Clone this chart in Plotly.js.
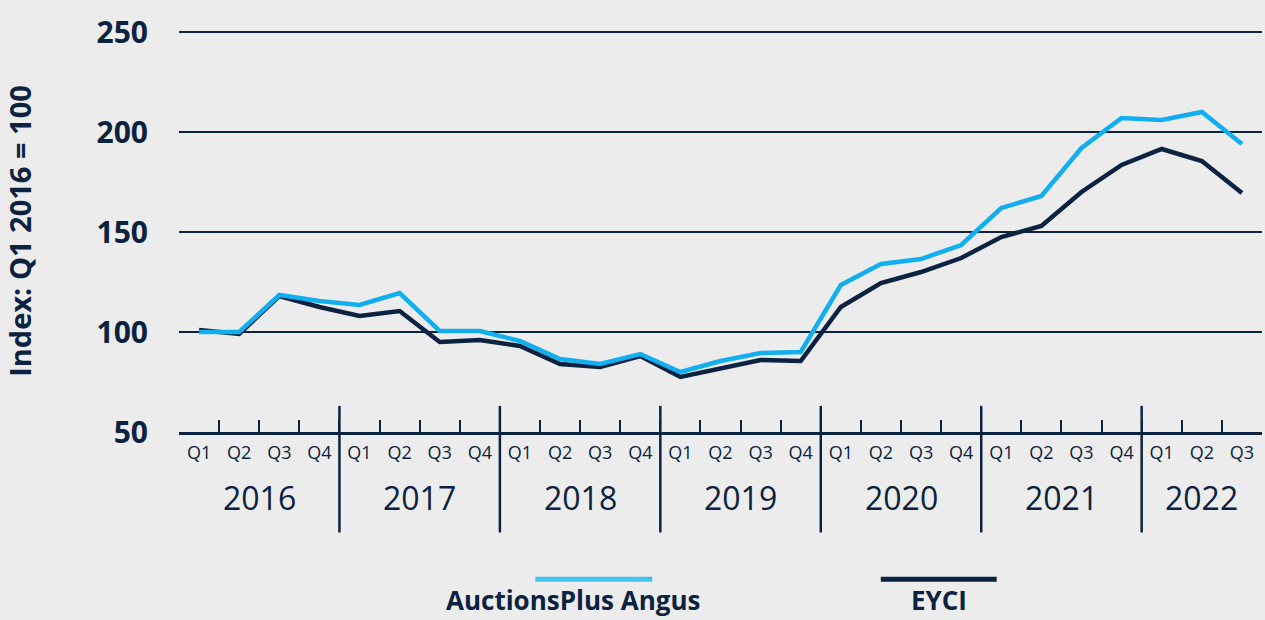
<!DOCTYPE html>
<html>
<head>
<meta charset="utf-8">
<script src="https://cdn.plot.ly/plotly-3.0.1.min.js"></script>
<style>
html,body{margin:0;padding:0;background:#ececec;}
#chart{width:1265px;height:620px;}
</style>
</head>
<body>
<div id="chart"></div>
<script>
const years = ['2016','2016','2016','2016','2017','2017','2017','2017','2018','2018','2018','2018',
               '2019','2019','2019','2019','2020','2020','2020','2020','2021','2021','2021','2021',
               '2022','2022','2022'];
const quarters = ['Q1','Q2','Q3','Q4','Q1','Q2','Q3','Q4','Q1','Q2','Q3','Q4',
                  'Q1','Q2','Q3','Q4','Q1','Q2','Q3','Q4','Q1','Q2','Q3','Q4',
                  'Q1','Q2','Q3'];
const seriesNames = ['AuctionsPlus Angus', 'EYCI'];
const auctionsPlusAngus = [100, 100, 118.5, 115.5, 113.5, 119.5, 100.5, 100.5, 95.5, 86.5, 84, 89,
                           80, 85.5, 89.5, 90, 123.5, 134, 136.5, 143.5, 162, 168, 192, 207,
                           206, 210, 194];
const eyci = [101, 99, 118, 112.5, 108, 110.5, 95, 96, 93, 84, 82.5, 88,
              77.5, 82, 86, 85.5, 112.5, 124.5, 130, 137, 147.5, 153, 170, 183.5,
              191.5, 185.5, 169.5];
const yTicks = [50, 100, 150, 200, 250];
const yTitle = 'Index: Q1 2016 = 100';

const NAVY = '#0b2240';
const BLUE = '#12aff0';
const FONT = 'Open Sans, Noto Sans, sans-serif';

const categories = years.map((y, i) => y + ' ' + quarters[i]);

// year groups from data
const yearList = [...new Set(years)];
const yearCenters = yearList.map(y => {
  const idx = years.map((v, i) => v === y ? i : -1).filter(i => i >= 0);
  return idx.reduce((a, b) => a + b, 0) / idx.length;
});
const boundaries = [];
for (let i = 1; i < years.length; i++) if (years[i] !== years[i - 1]) boundaries.push(i - 0.5);

const traces = [
  {x: categories, y: eyci, name: seriesNames[1], type: 'scatter', mode: 'lines',
   line: {color: NAVY, width: 4.5}, showlegend: false},
  {x: categories, y: auctionsPlusAngus, name: seriesNames[0], type: 'scatter', mode: 'lines',
   line: {color: BLUE, width: 4.5}, showlegend: false}
];

const shapes = boundaries.map(b => ({
  type: 'line', xref: 'x', yref: 'paper', x0: b, x1: b, y0: 0.065, y1: -0.25,
  line: {color: NAVY, width: 2.5}
}));
// custom legend lines
shapes.push({type: 'line', xref: 'paper', yref: 'paper', x0: 0.329, x1: 0.437, y0: -0.366, y1: -0.366,
             line: {color: '#45c3ec', width: 5}});
shapes.push({type: 'line', xref: 'paper', yref: 'paper', x0: 0.648, x1: 0.755, y0: -0.366, y1: -0.366,
             line: {color: NAVY, width: 5}});

const annotations = yearList.map((y, k) => ({
  xref: 'x', yref: 'paper', x: yearCenters[k], y: -0.164, yanchor: 'middle', xanchor: 'center',
  text: y, showarrow: false, font: {family: FONT, size: 32, color: NAVY}
}));
annotations.push({xref: 'paper', yref: 'paper', x: 0.364, y: -0.419, yanchor: 'middle', xanchor: 'center',
  text: seriesNames[0], showarrow: false, font: {family: FONT, size: 26, color: NAVY, weight: 700}});
annotations.push({xref: 'paper', yref: 'paper', x: 0.702, y: -0.419, yanchor: 'middle', xanchor: 'center',
  text: seriesNames[1], showarrow: false, font: {family: FONT, size: 26, color: NAVY, weight: 700}});

const layout = {
  width: 1265, height: 620,
  margin: {l: 179, r: 3, t: 30, b: 188},
  paper_bgcolor: '#ececec', plot_bgcolor: '#ececec',
  font: {family: FONT, color: NAVY},
  showlegend: false,
  xaxis: {
    type: 'category', range: [-0.5, categories.length - 0.5],
    tickvals: categories, ticktext: quarters,
    tickson: 'boundaries', ticks: 'inside', ticklen: 12, tickwidth: 2, tickcolor: NAVY,
    showline: true, linecolor: NAVY, linewidth: 3,
    showgrid: false, zeroline: false,
    tickfont: {family: FONT, size: 18, color: NAVY},
    ticklabelstandoff: 2
  },
  yaxis: {
    range: [50, 251], tickvals: yTicks, ticks: '',
    showgrid: true, gridcolor: NAVY, gridwidth: 2,
    zeroline: false, showline: false,
    tickfont: {family: FONT, size: 30, color: NAVY, weight: 700},
    ticklabelstandoff: 30,
    title: {text: yTitle, standoff: 56, font: {family: FONT, size: 29, color: NAVY, weight: 700}}
  },
  shapes: shapes,
  annotations: annotations
};

Plotly.newPlot('chart', traces, layout, {displayModeBar: false, staticPlot: true});
</script>
</body>
</html>
